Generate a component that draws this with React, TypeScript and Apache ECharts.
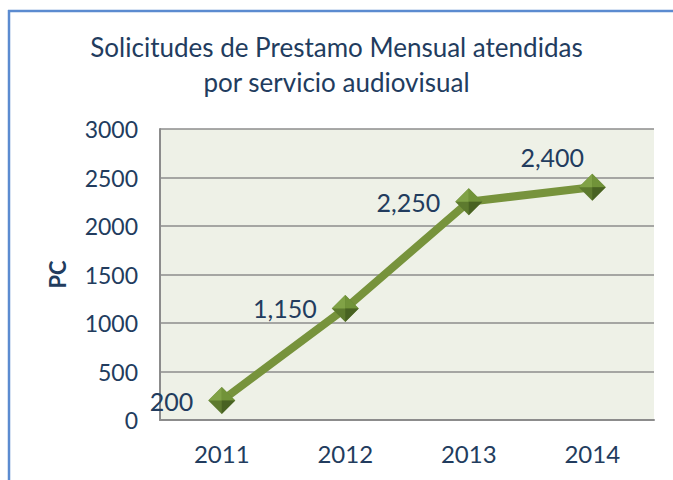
import React, { useEffect, useRef } from "react";
import * as echarts from "echarts";

const titleLines = ["Solicitudes de Prestamo Mensual atendidas", "por servicio audiovisual"];
const categories = ["2011", "2012", "2013", "2014"];
const values = [200, 1150, 2250, 2400];
const yTicks = { min: 0, max: 3000, interval: 500 };
const yAxisName = "PC";

const TEXT = "#223c5e";
const FONT = "Lato, 'Noto Sans', sans-serif";
const S = 27; // marker size
const H = S / 2;

const facet = (path: string, color: string, offset: [number, number], name: string) => ({
  type: "scatter",
  name,
  data: values,
  symbol: path,
  symbolSize: [H, H],
  symbolOffset: offset,
  itemStyle: { color },
  z: 4,
  silent: true,
});

export default function App() {
  const ref = useRef<HTMLDivElement>(null);
  useEffect(() => {
    if (!ref.current) return;
    const chart = echarts.init(ref.current, undefined, { renderer: "svg" });
    const last = values.length - 1;
    chart.setOption({
      animation: false,
      backgroundColor: "#ffffff",
      title: {
        text: titleLines.join("\n"),
        left: "center",
        top: 24,
        textStyle: {
          color: TEXT,
          fontFamily: FONT,
          fontSize: 26,
          fontWeight: "normal",
          lineHeight: 35,
        },
      },
      graphic: [
        {
          type: "line",
          shape: { x1: 9, y1: 10, x2: 9, y2: 490 },
          style: { stroke: "#5b8bd0", lineWidth: 2.5 },
          silent: true,
          z: 0,
        },
        {
          type: "line",
          shape: { x1: 8, y1: 11, x2: 673, y2: 11 },
          style: { stroke: "#5b8bd0", lineWidth: 2.5 },
          silent: true,
          z: 0,
        },
      ],
      grid: {
        left: 160,
        right: 19,
        top: 129,
        bottom: 60,
        show: true,
        backgroundColor: "#eef1e7",
        borderWidth: 0,
      },
      xAxis: {
        type: "category",
        data: categories,
        boundaryGap: true,
        axisLine: { show: true, lineStyle: { color: "#8c8c8c", width: 2 } },
        axisTick: { show: false },
        axisLabel: { color: TEXT, fontFamily: FONT, fontSize: 24, margin: 21 },
      },
      yAxis: {
        type: "value",
        min: yTicks.min,
        max: yTicks.max,
        interval: yTicks.interval,
        name: yAxisName,
        nameLocation: "middle",
        nameRotate: 90,
        nameGap: 92,
        nameTextStyle: { color: TEXT, fontFamily: FONT, fontSize: 22, fontWeight: "bold" },
        axisLine: { show: true, lineStyle: { color: "#8c8c8c", width: 2 } },
        axisTick: { show: false },
        splitLine: { show: true, lineStyle: { color: "#8c8c8c", width: 1.5 } },
        axisLabel: {
          color: TEXT,
          fontFamily: FONT,
          fontSize: 23,
          margin: 22,
          formatter: (v: number) => String(v),
        },
      },
      series: [
        {
          type: "line",
          name: "Solicitudes",
          data: values.map((v, i) => ({
            value: v,
            label:
              i === last
                ? { position: "top", offset: [-40, 0], distance: 4 }
                : { position: "left", distance: 15 },
          })),
          lineStyle: { color: "#77933c", width: 8 },
          symbol: "diamond",
          symbolSize: S,
          itemStyle: { color: "#5d7a2e" },
          label: {
            show: true,
            color: TEXT,
            fontFamily: FONT,
            fontSize: 25,
            formatter: (p: any) => Number(p.value).toLocaleString("en-US"),
          },
          z: 3,
        },
        facet("path://M0,10 L10,0 L10,10 Z", "#8aac4c", [-H / 2, -H / 2], "tl"),
        facet("path://M0,0 L10,10 L0,10 Z", "#779a3c", [H / 2, -H / 2], "tr"),
        facet("path://M0,0 L10,0 L0,10 Z", "#435d1f", [H / 2, H / 2], "br"),
      ],
    });
    return () => chart.dispose();
  }, []);
  return (
    <div
      ref={ref}
      style={{ position: "fixed", left: 0, top: 0, width: 673, height: 480 }}
    />
  );
}
